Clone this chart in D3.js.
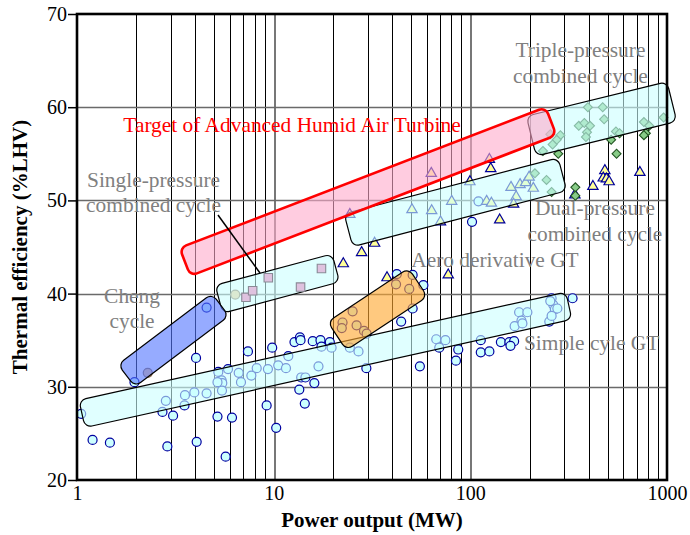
<!DOCTYPE html>
<html>
<head>
<meta charset="utf-8">
<script src="https://cdn.jsdelivr.net/npm/d3@7"></script>
<style>
  body { margin: 0; background: #fff; }
  svg { display: block; }
  text { font-family: "Liberation Serif", "Times New Roman", serif; }
</style>
</head>
<body>
<svg id="canvas"></svg>
<script>
let width = 690
let height = 535

// gas turbine plants: [power output MW, thermal efficiency %LHV]
let simpleGT = [
  [1.05,27.1],[1.2,24.3],[1.47,24.0],[1.96,30.5],[2.72,27.3],[2.83,28.5],[2.88,23.6],[3.08,26.9],
  [3.52,28.0],[3.54,29.1],[3.95,29.4],[4.03,33.1],[4.06,24.1],[4.56,29.3],[4.56,38.5],[5.18,26.8],
  [6.14,26.7],[5.70,22.5],[5.23,31.6],[5.86,31.9],[5.44,30.7],[5.48,30.4],[5.46,29.6],[5.18,30.5],
  [6.64,31.5],[6.82,30.5],[7.40,33.8],[8.20,32.0],[7.7,31.2],[9.35,31.9],[9.21,28.0],[9.83,34.2],
  [10.3,25.6],[10.55,32.3],[11.55,32.0],[11.87,33.3],[12.76,34.8],[13.6,35.3],[13.7,35.0],[15.8,34.9],
  [17.3,35.0],[19.3,34.8],[17.5,34.3],[19.7,34.2],[16.9,32.2],[13.8,31.0],[14.5,31.0],[16.1,30.4],
  [13.5,29.7],[14.4,28.2],[24.4,34.2],[27.0,33.8],[29.6,32.0],[44.5,37.0],[50.9,38.4],[55.4,32.2],
  [67.1,35.1],[74.7,35.0],[69.5,34.2],[86.8,34.0],[84.5,32.8],[42.3,42.1],[57.7,40.9],[25.2,38.1],
  [22.4,36.9],[22.2,36.3],[26.4,36.6],[28.8,36.0],[29.7,35.7],[41.9,41.0],[48.9,40.5],[50.9,42.0],
  [113,35.0],[113,33.7],[125,33.8],[143,34.8],[158,34.8],[167,34.9],[160,34.4],[177,38.0],
  [195,38.0],[182,37.1],[168,36.5],[184,36.8],[259,39.5],[264,38.8],[269,38.3],[252,37.0],
  [259,37.6],[277,38.4],[255,39.2],[331,39.5],[110,49.9],[102,47.7]
]
let singleCC = [[7.23,39.6],[7.82,40.3],[9.39,41.7],[13.7,40.7],[17.5,42.7]]
let dualCC = [
  [24.4,48.5],[63.3,52.9],[125,54.4],[127,53.4],[99.5,52.0],[50.5,49.0],[63.6,48.9],[70.5,47.7],
  [80.4,49.9],[121,49.9],[128,49.7],[141,47.9],[161,51.4],[179,51.7],[191,51.9],[199,52.5],
  [209,51.3],[171,50.4],[166,49.6],[32.6,45.4],[28.0,44.4],[22.6,43.2],[37.7,41.7],[77.2,42.0],
  [340,50.6],[420,51.5],[483,53.2],[474,52.4],[492,52.3],[508,52.0],[728,53.0]
]
let tripleCC = [
  [396,60.0],[471,60.0],[479,58.7],[356,58.0],[380,58.3],[406,58.0],[392,57.3],[387,56.8],
  [550,57.4],[574,57.2],[520,56.5],[554,55.0],[763,58.4],[812,58.0],[961,58.9],[781,57.2],
  [763,57.0],[255,57.1],[287,57.0],[275,56.5],[262,56.0],[234,55.3],[280,55.0],[213,52.9],
  [244,52.2],[259,50.9],[342,51.4],[342,50.5]
]
let otherPts = [[2.29,31.5],[6.38,39.9]]

// regions drawn as rounded bands: centre line start / end [MW, %]
let bandNames = ['simple','single','dual','triple','cheng','aero','target']
let bandStart = [[1.06,27.1],[5.27,39.4],[24.0,46.8],[204,56.9],[1.785,31.2],[21.0,35.45],[3.54,43.4]]
let bandEnd   = [[317,38.7],[20.7,42.75],[294,52.8],[1059,60.6],[5.36,38.8],[54.2,41.2],[257,58.5]]

let xTicks = [1,10,100,1000]
let yTicks = [20,30,40,50,60,70]

let canvas = d3.select('#canvas').attr('width',width).attr('height',height)

let xScale = d3.scaleLog().domain([1,1000]).range([77,667])
let yScale = d3.scaleLinear().domain([20,70]).range([480,14])

let snap = v => Math.round(v) + 0.5

// grid
let grid = canvas.append('g')
grid.selectAll('line.v')
  .data(xScale.ticks().filter(d => d > 1 && d < 1000))
  .enter().append('line')
  .attr('x1', d => snap(xScale(d))).attr('x2', d => snap(xScale(d)))
  .attr('y1', yScale(70)).attr('y2', yScale(20))
  .attr('stroke', d => (d === 10 || d === 100) ? '#777' : '#000')
  .attr('stroke-width', d => (d === 10 || d === 100) ? 2 : 1)
  .attr('shape-rendering','crispEdges')
grid.selectAll('line.h')
  .data(yTicks.slice(1,-1))
  .enter().append('line')
  .attr('x1', xScale(1)).attr('x2', xScale(1000))
  .attr('y1', d => snap(yScale(d))).attr('y2', d => snap(yScale(d)))
  .attr('stroke','#6a6a6a').attr('stroke-width',1.5)

// points
let pts = canvas.append('g')
pts.selectAll('circle.sgt').data(simpleGT).enter().append('circle')
  .attr('cx', d => xScale(d[0])).attr('cy', d => yScale(d[1])).attr('r',4.5)
  .attr('fill','#ccffff').attr('stroke','#0000a0').attr('stroke-width',1.2)
pts.selectAll('circle.oth').data(otherPts).enter().append('circle')
  .attr('cx', d => xScale(d[0])).attr('cy', d => yScale(d[1])).attr('r',4.5)
  .attr('fill','#f2c890').attr('stroke','#8a6a50').attr('stroke-width',1.2)
pts.selectAll('path.tri').data(dualCC).enter().append('path')
  .attr('d', d3.symbol().type(d3.symbolTriangle).size(46))
  .attr('transform', d => `translate(${xScale(d[0])},${yScale(d[1])})`)
  .attr('fill','#ffff99').attr('stroke','#000099').attr('stroke-width',1.2)
pts.selectAll('path.dia').data(tripleCC).enter().append('path')
  .attr('d', d3.symbol().type(d3.symbolSquare).size(40))
  .attr('transform', d => `translate(${xScale(d[0])},${yScale(d[1])}) rotate(45)`)
  .attr('fill','#88cc88').attr('stroke','#225522').attr('stroke-width',1.1)

// bands
let bandStyle = {
  simple: {w:28, fill:'#ccffff', op:0.6, stroke:'#000', sw:1.2},
  single: {w:29, fill:'#ccffff', op:0.6, stroke:'#000', sw:1.2},
  dual:   {w:34, fill:'#ccffff', op:0.6, stroke:'#000', sw:1.2},
  triple: {w:41, fill:'#ccffff', op:0.6, stroke:'#000', sw:1.2},
  cheng:  {w:28, fill:'#5577ff', op:0.62, stroke:'#000', sw:1.2},
  aero:   {w:34, fill:'#ffa830', op:0.62, stroke:'#000', sw:1.2},
  target: {w:30, fill:'#ffaacc', op:0.6, stroke:'#ff0000', sw:2.6}
}
let bands = canvas.append('g')
let drawBand = (i) => {
  let st = bandStyle[bandNames[i]]
  let x1 = xScale(bandStart[i][0]), y1 = yScale(bandStart[i][1])
  let x2 = xScale(bandEnd[i][0]), y2 = yScale(bandEnd[i][1])
  let len = Math.hypot(x2 - x1, y2 - y1)
  let ang = Math.atan2(y2 - y1, x2 - x1) * 180 / Math.PI
  bands.append('rect')
    .attr('x',0).attr('y',-st.w/2).attr('width',len).attr('height',st.w)
    .attr('rx',7).attr('ry',7)
    .attr('transform',`translate(${x1},${y1}) rotate(${ang})`)
    .attr('fill',st.fill).attr('fill-opacity',st.op)
    .attr('stroke',st.stroke).attr('stroke-width',st.sw)
}
for (let i = 0; i < 6; i++) drawBand(i)

canvas.append('g').selectAll('path').data(singleCC).enter().append('path')
  .attr('d', d3.symbol().type(d3.symbolSquare).size(72))
  .attr('transform', d => `translate(${xScale(d[0])},${yScale(d[1])})`)
  .attr('fill','#dfc2df').attr('stroke','#8a8a96').attr('stroke-width',1.1)

drawBand(6)

// leader line for single-pressure label
canvas.append('line')
  .attr('x1', xScale(5.21)).attr('y1', yScale(48.43))
  .attr('x2', xScale(8.52)).attr('y2', yScale(42.21))
  .attr('stroke','#000').attr('stroke-width',1.5)

// annotations
let notes = [
  {lines:['Triple-pressure','combined cycle'], p:363, e:65.4, anchor:'middle', color:'#808080', lh:26},
  {lines:['Target of Advanced Humid Air Turbine'], p:1.72, e:57.37, anchor:'start', color:'#ff0000', lh:0},
  {lines:['Single-pressure','combined cycle'], p:2.45, e:51.47, anchor:'middle', color:'#808080', lh:25.6},
  {lines:['Dual-pressure','combined cycle'], p:430, e:48.43, anchor:'middle', color:'#808080', lh:25.7},
  {lines:['Aero derivative GT'], p:133.4, e:42.82, anchor:'middle', color:'#808080', lh:0},
  {lines:['Cheng','cycle'], p:1.905, e:38.96, anchor:'middle', color:'#808080', lh:25},
  {lines:['Simple cyle GT'], p:187.3, e:33.95, anchor:'start', color:'#808080', lh:0}
]
notes.forEach(n => {
  let t = canvas.append('text')
    .attr('x', xScale(n.p)).attr('y', yScale(n.e))
    .attr('text-anchor', n.anchor).attr('fill', n.color)
    .style('font-size','21.4px')
  n.lines.forEach((l, i) => {
    t.append('tspan').attr('x', xScale(n.p)).attr('dy', i === 0 ? 0 : n.lh).text(l)
  })
})

// frame
canvas.append('rect')
  .attr('x', xScale(1)).attr('y', yScale(70))
  .attr('width', xScale(1000) - xScale(1)).attr('height', yScale(20) - yScale(70))
  .attr('fill','none').attr('stroke','#000').attr('stroke-width',2.6)

// axes
let yAxis = d3.axisLeft(yScale).tickValues(yTicks).tickSizeInner(9).tickSizeOuter(0).tickPadding(1)
let gy = canvas.append('g').attr('transform',`translate(${xScale(1)},0)`).call(yAxis)
gy.select('.domain').remove()
gy.selectAll('line').attr('stroke-width',1.5)
gy.selectAll('text').style('font-size','20px').attr('fill','#000')
  .style('font-family','"Liberation Serif", serif')

let xAxis = d3.axisBottom(xScale).tickValues(xTicks).tickFormat(d3.format('d')).tickSize(0).tickPadding(6)
let gx = canvas.append('g').attr('transform',`translate(0,${yScale(20)})`).call(xAxis)
gx.select('.domain').remove()
gx.selectAll('text').style('font-size','20px').attr('fill','#000')
  .style('font-family','"Liberation Serif", serif')

// titles
canvas.append('text')
  .attr('x', 372).attr('y', 527)
  .attr('text-anchor','middle').style('font-size','21px').style('font-weight','bold')
  .text('Power output (MW)')
canvas.append('text')
  .attr('transform','translate(27,247) rotate(-90)')
  .attr('text-anchor','middle').style('font-size','21px').style('font-weight','bold')
  .text('Thermal efficiency (%LHV)')
</script>
</body>
</html>
